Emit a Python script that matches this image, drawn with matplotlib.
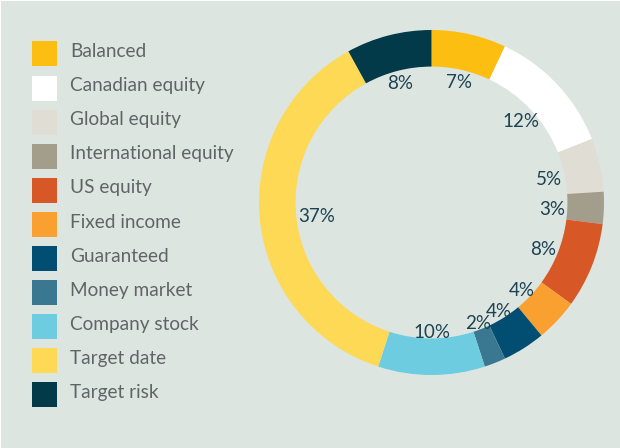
import matplotlib
matplotlib.use("Agg")
import matplotlib.pyplot as plt
import numpy as np
from matplotlib.patches import Rectangle

categories = ['Balanced', 'Canadian equity', 'Global equity', 'International equity',
              'US equity', 'Fixed income', 'Guaranteed', 'Money market',
              'Company stock', 'Target date', 'Target risk']
shares = [7, 12, 5, 3, 8, 4, 4, 2, 10, 37, 8]
colors = ['#FDBE12', '#FFFFFF', '#E0DDD5', '#A39D8C', '#D75726', '#F9A030',
          '#024E73', '#3A7892', '#6DCCDF', '#FED955', '#023A49']

bg = '#DDE5E1'
W, H = 620, 448
R_PX = 172.5  # outer radius in pixels

fig = plt.figure(figsize=(6.2, 4.48), dpi=100)
fig.patch.set_facecolor('white')

# background / legend layer in pixel coords
lax = fig.add_axes([0, 0, 1, 1])
lax.set_xlim(0, W)
lax.set_ylim(H, 0)
lax.axis('off')
lax.add_patch(Rectangle((1, 1), W, H, facecolor=bg, edgecolor='none'))

for i, (name, c) in enumerate(zip(categories, colors)):
    yc = 54 + i * 34.1
    lax.add_patch(Rectangle((32, yc - 12.5), 25, 25, facecolor=c, edgecolor='none'))
    lax.text(70, yc - 2.5, name, fontsize=13.7, color='#616466',
             family='Lato', va='center', ha='left')

# donut
ax = fig.add_axes([259 / W, (H - 375) / H, 2 * R_PX / W, 2 * R_PX / H])
wedges, texts = ax.pie(shares, colors=colors, startangle=90, counterclock=False,
                       radius=1, labels=[f'{s}%' for s in shares], labeldistance=0.72,
                       wedgeprops=dict(width=0.212, linewidth=0),
                       textprops=dict(fontsize=13.5, color='#1D4250', family='Lato',
                                      ha='center', va='center'))
ax.set_xlim(-1, 1)
ax.set_ylim(-1, 1)
ax.axis('off')

# tuck each label just inside the hole
fig.canvas.draw()
renderer = fig.canvas.get_renderer()
for w, t in zip(wedges, texts):
    mid = np.deg2rad((w.theta1 + w.theta2) / 2)
    hw = t.get_window_extent(renderer).width / 2
    hh = 7.0
    cx, cy = abs(np.cos(mid)), abs(np.sin(mid))
    d = min(hw / cx if cx > 1e-6 else 1e9, hh / cy if cy > 1e-6 else 1e9)
    r = (133.5 - d) / R_PX
    t.set_position((r * np.cos(mid), r * np.sin(mid) - 3.5 / R_PX))

fig.savefig('out.png', dpi=100, facecolor=fig.get_facecolor())
